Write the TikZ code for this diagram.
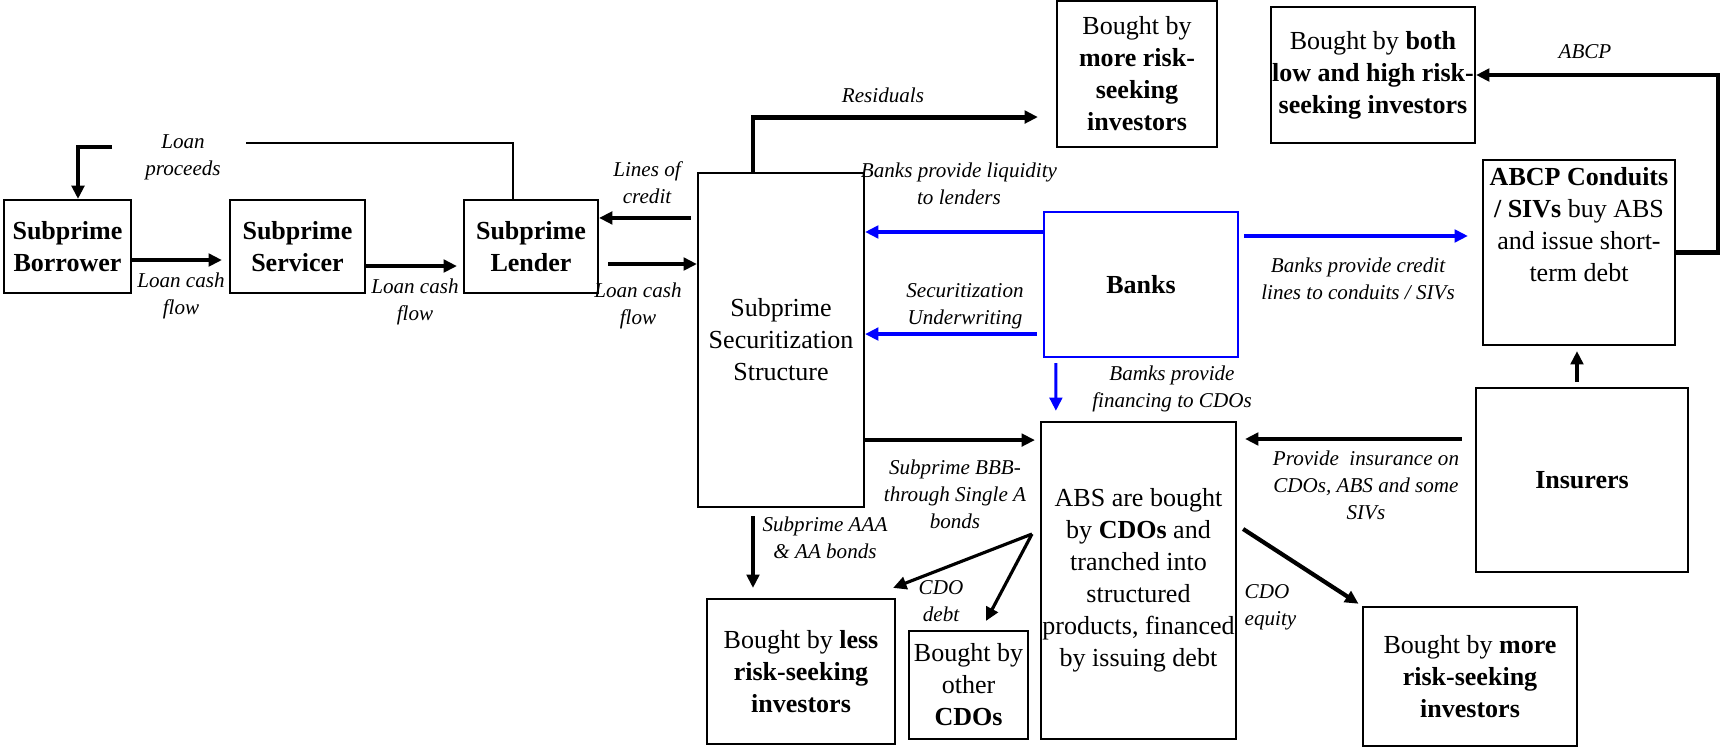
\documentclass[tikz,border=0pt]{standalone}
\usepackage{fontspec}
\setmainfont{Liberation Serif}
\usetikzlibrary{arrows.meta}

\begin{document}
\begin{tikzpicture}[x=0.01cm, y=-0.01cm,
  box/.style={draw, line width=0.6pt, inner sep=0pt, align=center, font=\fontsize{7.4}{9.1}\selectfont},
  boxtext/.style={inner sep=0pt, align=center, font=\fontsize{7.4}{9.1}\selectfont},
  lbl/.style={inner sep=0pt, align=center, font=\fontsize{6}{7.7}\selectfont\itshape},
  arr/.style={line width=0.9pt, -{Triangle[length=3.8pt,width=3.6pt]}},
  bluearr/.style={arr, blue}]
\useasboundingbox (0,0) rectangle (1720,747);

% left chain
\node[box, minimum width=12.7mm, minimum height=9.3mm] (borrower) at (67.5,246.5) {\textbf{Subprime}\\\textbf{Borrower}};
\node[box, minimum width=13.5mm, minimum height=9.3mm] (servicer) at (297.5,246.5) {\textbf{Subprime}\\\textbf{Servicer}};
\node[box, minimum width=13.4mm, minimum height=9.3mm] (lender) at (531,246.5) {\textbf{Subprime}\\\textbf{Lender}};
\node[box, minimum width=16.6mm, minimum height=33.4mm] (sec) at (781,340) {Subprime\\Securitization\\Structure};

% investors and vehicles
\node[box, minimum width=16mm, minimum height=14.6mm] (resid) at (1137,74) {Bought by\\\textbf{more risk-}\\\textbf{seeking}\\\textbf{investors}};
\node[box, minimum width=20.4mm, minimum height=13.6mm] (both) at (1373,75) {Bought by \textbf{both}\\\textbf{low and high risk-}\\\textbf{seeking investors}};
\node[box, minimum width=19.2mm, minimum height=18.5mm] (conduits) at (1579,252.5) {};
\node[boxtext] (conduitstxt) at (1579,225) {\textbf{ABCP Conduits}\\\textbf{/ SIVs} buy ABS\\and issue short-\\term debt};
\node[box, draw=blue, minimum width=19.4mm, minimum height=14.5mm] (banks) at (1141,284.5) {\textbf{Banks}};
\node[box, minimum width=19.5mm, minimum height=31.7mm] (abs) at (1138.5,580.5) {ABS are bought\\by \textbf{CDOs} and\\tranched into\\structured\\products, financed\\by issuing debt};
\node[box, minimum width=21.2mm, minimum height=18.4mm] (insurers) at (1582,480) {\textbf{Insurers}};
\node[box, minimum width=18.8mm, minimum height=14.5mm] (less) at (801,671.5) {Bought by \textbf{less}\\\textbf{risk-seeking}\\\textbf{investors}};
\node[box, minimum width=11.9mm, minimum height=10.8mm] (other) at (968.5,685) {Bought by\\other\\\textbf{CDOs}};
\node[box, minimum width=21.4mm, minimum height=13.9mm] (morebottom) at (1470,676.5) {Bought by \textbf{more}\\\textbf{risk-seeking}\\\textbf{investors}};

% loan proceeds
\coordinate (proceedsR) at (246,143);
\coordinate (proceedsL) at (112,147);
\path[draw, line width=0.5pt] ([xshift=-1.8mm]lender.north) |- (proceedsR);
\path[draw, arr, line width=1.3pt] (proceedsL) -| ([xshift=1.05mm]borrower.north);
\node[lbl] (proceedslbl) at (183,157) {Loan\\proceeds};

% loan cash flow
\path[draw, arr, shorten >=0.7mm] ([yshift=-1.35mm]borrower.east) -- ([yshift=-1.35mm]borrower.east -| servicer.west);
\node[lbl] (cash1) at (181,296) {Loan cash\\flow};
\path[draw, arr, shorten >=0.6mm] ([yshift=-1.95mm]servicer.east) -- ([yshift=-1.95mm]servicer.east -| lender.west);
\node[lbl] (cash2) at (415,302) {Loan cash\\flow};
\path[draw, arr, shorten <=0.9mm] ([yshift=-1.75mm]lender.east) -- ([yshift=-1.75mm]lender.east -| sec.west);
\node[lbl] (cash3) at (638,306) {Loan cash\\flow};
\path[draw, arr, shorten <=0.6mm] ([yshift=12.2mm]sec.west) -- ([yshift=12.2mm]sec.west -| lender.east);
\node[lbl] (credit) at (647,183) {Lines of\\credit};

% residuals
\path[draw, arr, line width=1.4pt, shorten >=1.8mm] ([xshift=-2.8mm]sec.north) |- ([yshift=-4.3mm]resid.west);
\node[lbl] (residlbl) at (883,95) {Residuals};

% banks
\path[draw, bluearr] ([yshift=5.25mm]banks.west) -- ([yshift=5.25mm]banks.west -| sec.east);
\node[lbl] (liquidity) at (959,184) {Banks provide liquidity\\to lenders};
\path[draw, bluearr, shorten <=0.6mm] ([yshift=-4.95mm]banks.west) -- ([yshift=-4.95mm]banks.west -| sec.east);
\node[lbl] (underwriting) at (965,306) {Securitization\\Underwriting};
\path[draw, bluearr, shorten <=0.5mm, shorten >=1mm] ([xshift=1.3mm]banks.south west) -- ([xshift=1.6mm]abs.north west);
\node[lbl] (financing) at (1172,389) {Bamks provide\\financing to CDOs};
\path[draw, bluearr, shorten <=0.5mm, shorten >=1.4mm] ([yshift=4.85mm]banks.east) -- ([yshift=4.85mm]banks.east -| conduits.west);
\node[lbl] (creditlines) at (1358,279) {Banks provide credit\\lines to conduits / SIVs};

% securitization outputs
\path[draw, arr, shorten >=0.5mm] ([yshift=-10mm]sec.east) -- ([yshift=-10mm]sec.east -| abs.west);
\node[lbl] (bbb) at (955,494) {Subprime BBB-\\through Single A\\bonds};
\path[draw, arr, shorten <=0.8mm, shorten >=1mm] ([xshift=-2.8mm]sec.south) -- ([xshift=-2.8mm]sec.south |- less.north);
\node[lbl] (aaa) at (825,538) {Subprime AAA\\\& AA bonds};

% CDO tranches
\coordinate (split) at (1032,534);
\path[draw, arr] (split) -- ([xshift=-0.3mm,yshift=1mm]less.north east);
\path[draw, arr] (split) -- ([xshift=1.75mm,yshift=0.9mm]other.north);
\node[lbl] (debt) at (941,601) {CDO\\debt};
\path[draw, arr, line width=1.2pt, shorten >=0.4mm] ([xshift=0.6mm,yshift=5.15mm]abs.east) -- (morebottom.north west);
\node[lbl, align=left, anchor=west] (equity) at (1244,607) {CDO\\equity};

% insurers
\path[draw, arr, shorten <=1.3mm, shorten >=0.8mm] ([yshift=4.1mm]insurers.west) -- ([yshift=4.1mm]insurers.west -| abs.east);
\node[lbl] (insurance) at (1366,485) {Provide\ \ insurance on\\CDOs, ABS and some\\SIVs};
\path[draw, arr, shorten <=0.5mm, shorten >=0.5mm] ([xshift=-0.5mm]insurers.north) -- ([xshift=-0.5mm]insurers.north |- conduits.south);

% ABCP
\path[draw, arr, line width=1.2pt] (conduits.east) -- ++(42,0) |- (both.east);
\node[lbl] (abcp) at (1585,52) {ABCP};
\end{tikzpicture}
\end{document}
